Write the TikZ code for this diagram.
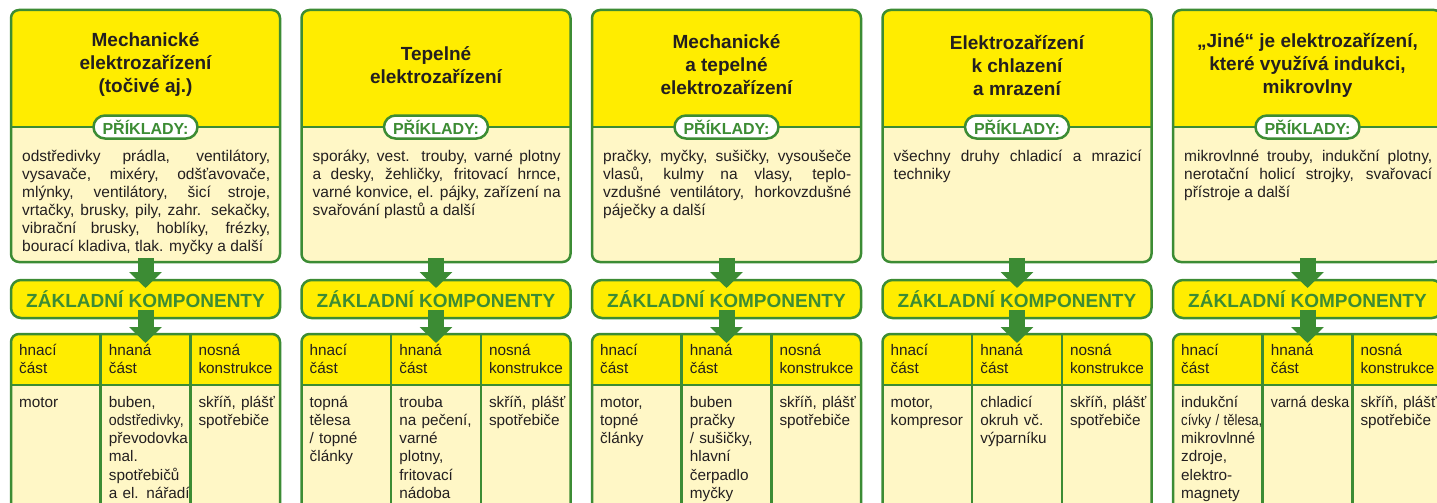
\documentclass[tikz,border=0pt]{standalone}
\usepackage{fontspec}
\setmainfont{Liberation Sans}
\usepackage{graphicx}
\usepackage{xcolor}
\definecolor{darkgreen}{RGB}{60,140,52}
\definecolor{headyellow}{RGB}{255,237,0}
\definecolor{paleyellow}{RGB}{255,247,198}
\definecolor{textblack}{RGB}{35,31,32}
\usepackage{tikz}
\usetikzlibrary{calc}
\usetikzlibrary{arrows.meta}
\usetikzlibrary{positioning}
\newcommand{\widthcolumn}{269pt}
\newcommand{\squeeze}[2][0.85]{\scalebox{#1}[1]{#2}}
\tikzset{
    common/.style={anchor=north west, draw=darkgreen, line width=2.5pt, rounded corners=8pt, minimum width=\widthcolumn, inner sep=0pt, outer sep=0pt},
    examples/.style={common, minimum height=252pt, fill=paleyellow,
        path picture={
            \fill[headyellow, sharp corners] (path picture bounding box.north west) rectangle ([yshift=-117pt]path picture bounding box.north east);
            \draw[darkgreen, line width=2.5pt, sharp corners]
                ([yshift=-117pt]path picture bounding box.north west) -- ([yshift=-117pt]path picture bounding box.north east);
        }
    },
    zkbox/.style={common, minimum height=38pt, rounded corners=10pt, fill=headyellow, text=darkgreen, font=\fontsize{19}{23}\selectfont\bfseries},
    compbox/.style={common, minimum height=200pt, fill=paleyellow,
        path picture={
            \fill[headyellow, sharp corners] (path picture bounding box.north west) rectangle ([yshift=-51pt]path picture bounding box.north east);
            \draw[darkgreen, line width=2.5pt, sharp corners]
                ([yshift=-51pt]path picture bounding box.north west) -- ([yshift=-51pt]path picture bounding box.north east)
                ($(path picture bounding box.north west)!1/3!(path picture bounding box.north east)$) -- ($(path picture bounding box.south west)!1/3!(path picture bounding box.south east)$)
                ($(path picture bounding box.north west)!2/3!(path picture bounding box.north east)$) -- ($(path picture bounding box.south west)!2/3!(path picture bounding box.south east)$);
        }
    },
    pill/.style={draw=darkgreen, line width=2.5pt, fill=white, rounded corners=11.5pt, minimum width=104pt, minimum height=23pt, inner sep=0pt, text=darkgreen, font=\fontsize{16}{18}\selectfont\bfseries},
    heading/.style={align=center, inner sep=0pt, text=textblack, font=\fontsize{19}{23}\selectfont\bfseries},
    extext/.style={anchor=base west, text width=248pt, align=justify, inner sep=0pt, text=textblack, font=\fontsize{15.5}{18}\selectfont,
        execute at begin node={\tolerance=10000\hbadness=10000}},
    celltext/.style={anchor=base west, text width=84pt, align=left, inner sep=0pt, text=textblack, font=\fontsize{15.3}{18.3}\selectfont},
    bigarrow/.style={darkgreen, line width=16pt, -{Triangle[width=32pt, length=16pt]}}
}
\newcommand{\appcolumn}[7]{%
    \node[examples] (ex-#1) at (#2,-10) {};
    \node[heading] (title-#1) at ([yshift=-55pt]ex-#1.north) {#3};
    \node[pill] (pill-#1) at ([yshift=-117pt]ex-#1.north) {PŘÍKLADY:};
    \node[extext] (list-#1) at ([xshift=11pt, yshift=-151pt]ex-#1.north west) {#4};
    \node[zkbox, below=18pt of ex-#1] (zk-#1) {ZÁKLADNÍ KOMPONENTY};
    \node[compbox, below=16pt of zk-#1] (comp-#1) {};
    \node[celltext] (drive-#1) at ([xshift=8pt, yshift=-21pt]comp-#1.north west) {hnací\\část};
    \node[celltext] (driven-#1) at ([xshift=97.7pt, yshift=-21pt]comp-#1.north west) {hnaná\\část};
    \node[celltext] (frame-#1) at ([xshift=187.3pt, yshift=-21pt]comp-#1.north west) {nosná\\konstrukce};
    \node[celltext] (drive-ex-#1) at ([xshift=8pt, yshift=-73pt]comp-#1.north west) {#5};
    \node[celltext] (driven-ex-#1) at ([xshift=97.7pt, yshift=-73pt]comp-#1.north west) {#6};
    \node[celltext] (frame-ex-#1) at ([xshift=187.3pt, yshift=-73pt]comp-#1.north west) {#7};
    \draw[bigarrow, shorten <=-4pt, shorten >=-8pt] (ex-#1) -- (zk-#1);
    \draw[bigarrow, shorten <=-8pt, shorten >=-9pt] (zk-#1) -- (comp-#1);
}

\begin{document}
\begin{tikzpicture}[x=1pt, y=1pt]
    \useasboundingbox (0,0) rectangle (1437,-503);

    \appcolumn{mech}{11}
        {Mechanické\\elektrozařízení\\(točivé aj.)}
        {\parfillskip=0pt odstředivky prádla, ventilátory,\linebreak vysavače, mixéry, odšťavovače,\linebreak mlýnky, ventilátory, šicí stroje,\linebreak vrtačky, brusky, pily, zahr. sekačky,\linebreak vibrační brusky, hoblíky, frézky,\linebreak bourací kladiva, tlak. myčky a další}
        {motor}
        {buben,\\\squeeze[0.93]{odstředivky,}\\převodovka\\mal.\\spotřebičů\\a el. nářadí}
        {skříň, plášť\\spotřebiče}

    \appcolumn{heat}{301.5}
        {Tepelné\\elektrozařízení}
        {sporáky, vest. trouby, varné plotny\linebreak a desky, žehličky, fritovací hrnce,\linebreak varné konvice, el. pájky, zařízení na\linebreak svařování plastů a další}
        {topná\\tělesa\\/ topné\\články}
        {trouba\\na pečení,\\varné\\plotny,\\fritovací\\nádoba}
        {skříň, plášť\\spotřebiče}

    \appcolumn{mixed}{592}
        {Mechanické\\a tepelné\\elektrozařízení}
        {pračky, myčky, sušičky, vysoušeče\linebreak vlasů, kulmy na vlasy, teplo-\linebreak vzdušné ventilátory, horkovzdušné\linebreak páječky a další}
        {motor,\\topné\\články}
        {buben\\pračky\\/ sušičky,\\hlavní\\čerpadlo\\myčky}
        {skříň, plášť\\spotřebiče}

    \appcolumn{cool}{882.5}
        {Elektrozařízení\\k chlazení\\a mrazení}
        {všechny druhy chladicí a mrazicí\linebreak techniky}
        {motor,\\kompresor}
        {chladicí\\okruh vč.\\výparníku}
        {skříň, plášť\\spotřebiče}

    \appcolumn{other}{1173}
        {„Jiné“ je elektrozařízení,\\které využívá indukci,\\mikrovlny}
        {mikrovlnné trouby, indukční plotny,\linebreak nerotační holicí strojky, svařovací\linebreak přístroje a další}
        {indukční\\\squeeze[0.86]{cívky / tělesa,}\\mikrovlnné\\zdroje,\\elektro-\\magnety}
        {\squeeze[0.93]{varná deska}}
        {skříň, plášť\\spotřebiče}
\end{tikzpicture}
\end{document}
